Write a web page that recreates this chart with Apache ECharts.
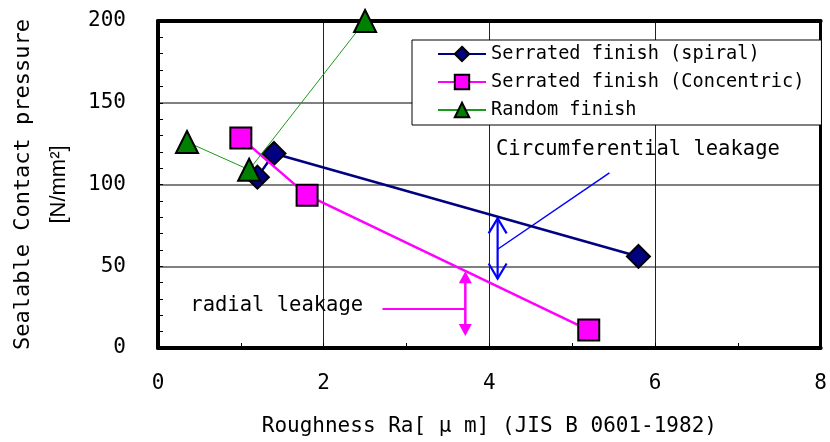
<!DOCTYPE html>
<html><head><meta charset="utf-8">
<script src="https://cdn.jsdelivr.net/npm/echarts@6/dist/echarts.min.js"></script>
<style>html,body{margin:0;padding:0;background:#fff}#c{width:830px;height:442px}</style>
</head><body><div id="c"></div>
<script>
const seriesNames = ['Serrated finish (spiral)', 'Serrated finish (Concentric)', 'Random finish'];
const spiral = [[1.2, 104.5], [1.4, 119], [5.8, 56]];
const concentric = [[1.0, 128.5], [1.8, 93.5], [5.2, 11]];
const random = [[0.35, 126], [1.1, 109], [2.5, 200]];
const xTicks = [0, 2, 4, 6, 8];
const yTicks = [0, 50, 100, 150, 200];
const xTitle = 'Roughness Ra[ μ m] (JIS B 0601-1982)';
const yTitle = ['Sealable Contact pressure', '[N/mm²]'];
const circText = 'Circumferential leakage';
const radialText = 'radial leakage';
const circArrow = [[4.1, 79.3], [4.1, 42.5]];
const circLeader = [[4.1, 60.4], [5.45, 107.1]];
const circLabelAt = [4.08, 121.3];
const radialArrow = [[3.71, 47], [3.71, 7.3]];
const radialLeader = [[2.71, 23.8], [3.71, 23.8]];
const radialLabelAt = [0.39, 25.6];

const MONO = '"DejaVu Sans Mono", monospace';
const chart = echarts.init(document.getElementById('c'), null, {renderer: 'canvas'});

function renderAnnotations(params, api) {
  const P = p => api.coord(p);
  const ch = [];
  const blue = '#0000ff', mag = '#ff00ff';
  const a0 = P(circArrow[0]), a1 = P(circArrow[1]);
  ch.push({type: 'line', shape: {x1: a0[0], y1: a0[1], x2: a1[0], y2: a1[1]}, style: {stroke: blue, lineWidth: 2.2}});
  ch.push({type: 'polyline', shape: {points: [[a0[0] - 9, a0[1] + 15], [a0[0], a0[1]], [a0[0] + 9, a0[1] + 15]]}, style: {stroke: blue, lineWidth: 2.2, fill: null}});
  ch.push({type: 'polyline', shape: {points: [[a1[0] - 9, a1[1] - 15], [a1[0], a1[1]], [a1[0] + 9, a1[1] - 15]]}, style: {stroke: blue, lineWidth: 2.2, fill: null}});
  const l0 = P(circLeader[0]), l1 = P(circLeader[1]);
  ch.push({type: 'line', shape: {x1: l0[0], y1: l0[1], x2: l1[0], y2: l1[1]}, style: {stroke: blue, lineWidth: 1.5}});
  const ct = P(circLabelAt);
  ch.push({type: 'text', style: {text: circText, x: ct[0], y: ct[1], fill: '#000', font: '20.5px ' + MONO, align: 'left', verticalAlign: 'middle'}});
  const r0 = P(radialArrow[0]), r1 = P(radialArrow[1]);
  ch.push({type: 'line', shape: {x1: r0[0], y1: r0[1] + 8, x2: r1[0], y2: r1[1] - 8}, style: {stroke: mag, lineWidth: 2.5}});
  ch.push({type: 'polygon', shape: {points: [[r0[0], r0[1]], [r0[0] - 6.5, r0[1] + 12], [r0[0] + 6.5, r0[1] + 12]]}, style: {fill: mag}});
  ch.push({type: 'polygon', shape: {points: [[r1[0], r1[1]], [r1[0] - 6.5, r1[1] - 12], [r1[0] + 6.5, r1[1] - 12]]}, style: {fill: mag}});
  const m0 = P(radialLeader[0]), m1 = P(radialLeader[1]);
  ch.push({type: 'line', shape: {x1: m0[0], y1: m0[1], x2: m1[0], y2: m1[1]}, style: {stroke: mag, lineWidth: 2}});
  const rt = P(radialLabelAt);
  ch.push({type: 'text', style: {text: radialText, x: rt[0], y: rt[1], fill: '#000', font: '20.5px ' + MONO, align: 'left', verticalAlign: 'middle'}});
  return {type: 'group', children: ch};
}

const option = {
  animation: false,
  backgroundColor: '#fff',
  grid: {left: 158, right: 8, top: 21, bottom: 93, containLabel: false},
  legend: {
    data: seriesNames,
    orient: 'vertical',
    left: 412, top: 40,
    padding: [4, 17, 5, 25],
    itemWidth: 48, itemHeight: 18, itemGap: 8,
    backgroundColor: '#fff', borderColor: '#000', borderWidth: 1, borderRadius: 0,
    textStyle: {fontFamily: MONO, fontSize: 18.6, color: '#000', lineHeight: 20},
    z: 10
  },
  xAxis: [{
    type: 'value', min: xTicks[0], max: xTicks[xTicks.length - 1], interval: xTicks[1] - xTicks[0],
    name: xTitle, nameLocation: 'middle', nameGap: 68,
    nameTextStyle: {fontFamily: MONO, fontSize: 21, color: '#000'},
    axisLine: {show: true, onZero: false, lineStyle: {color: '#000', width: 4}},
    axisTick: {show: true, inside: true, length: 5, lineStyle: {color: '#000', width: 1}},
    minorTick: {show: true, splitNumber: 2, length: 5, lineStyle: {color: '#000', width: 1}},
    splitLine: {show: true, lineStyle: {color: '#222', width: 1}},
    axisLabel: {margin: 25, fontFamily: MONO, fontSize: 21, color: '#000', showMinLabel: true, showMaxLabel: true}
  }, {
    type: 'value', position: 'top', min: 0, max: 8,
    axisLine: {show: true, onZero: false, lineStyle: {color: '#000', width: 4}},
    axisTick: {show: false}, axisLabel: {show: false}, splitLine: {show: false}
  }],
  yAxis: [{
    type: 'value', min: yTicks[0], max: yTicks[yTicks.length - 1], interval: yTicks[1] - yTicks[0],
    name: '{a|' + yTitle[0] + '}\n{b|' + yTitle[1] + '}', nameLocation: 'middle', nameGap: 82, nameRotate: 90,
    nameTextStyle: {
      color: '#000',
      rich: {
        a: {fontFamily: MONO, fontSize: 22, lineHeight: 35, color: '#000'},
        b: {fontFamily: '"Liberation Sans", Arial, sans-serif', fontSize: 22, lineHeight: 35, color: '#000'}
      }
    },
    axisLine: {show: true, onZero: false, lineStyle: {color: '#000', width: 4}},
    axisTick: {show: true, inside: true, length: 5, lineStyle: {color: '#000', width: 1}},
    minorTick: {show: true, splitNumber: 5, length: 5, lineStyle: {color: '#000', width: 1}},
    splitLine: {show: true, lineStyle: {color: '#808080', width: 2}},
    axisLabel: {margin: 32, fontFamily: MONO, fontSize: 21, color: '#000'}
  }, {
    type: 'value', position: 'right', min: 0, max: 200,
    axisLine: {show: true, onZero: false, lineStyle: {color: '#000', width: 3}},
    axisTick: {show: false}, axisLabel: {show: false}, splitLine: {show: false}
  }],
  series: [{
    name: seriesNames[0], type: 'line', data: spiral, xAxisIndex: 0, yAxisIndex: 0,
    symbol: 'diamond', symbolSize: 23, clip: false,
    lineStyle: {color: '#000080', width: 2.5},
    itemStyle: {color: '#000080', borderColor: '#000', borderWidth: 2},
    z: 3
  }, {
    name: seriesNames[1], type: 'line', data: concentric, xAxisIndex: 0, yAxisIndex: 0,
    symbol: 'rect', symbolSize: 21, clip: false,
    lineStyle: {color: '#ff00ff', width: 2.5},
    itemStyle: {color: '#ff00ff', borderColor: '#000', borderWidth: 2},
    z: 4
  }, {
    name: seriesNames[2], type: 'line', data: random, xAxisIndex: 0, yAxisIndex: 0,
    symbol: 'triangle', symbolSize: 22, clip: false,
    lineStyle: {color: '#1a9a1a', width: 1},
    itemStyle: {color: '#008000', borderColor: '#000', borderWidth: 2},
    z: 5
  }, {
    type: 'custom', coordinateSystem: 'cartesian2d', xAxisIndex: 0, yAxisIndex: 0,
    data: [[0, 0]], renderItem: renderAnnotations, silent: true, z: 2, clip: false
  }]
};
chart.setOption(option);
</script></body></html>
